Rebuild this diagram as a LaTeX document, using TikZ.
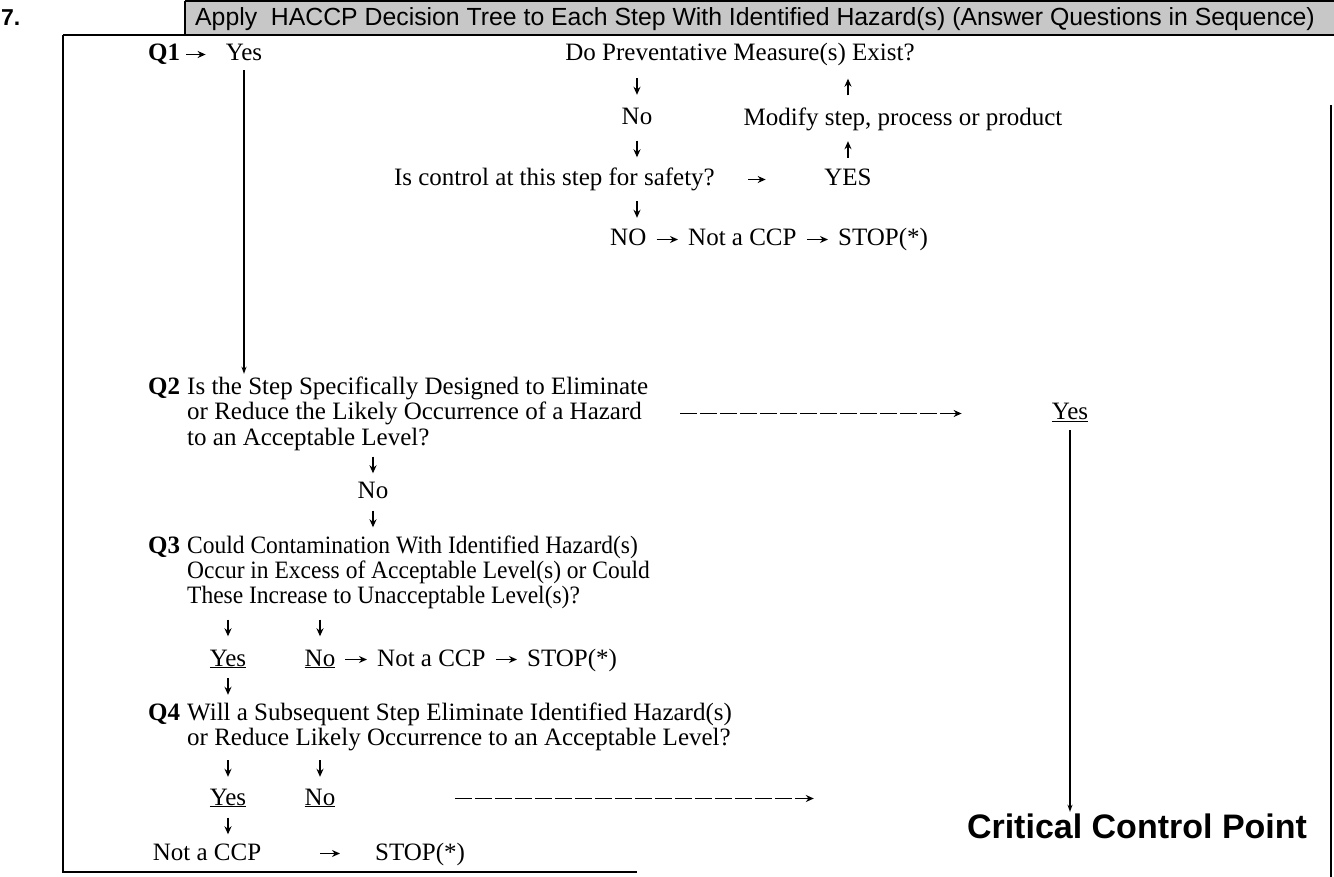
\documentclass[tikz,border=0pt]{standalone}
\usepackage{fontspec}
\setmainfont{Liberation Serif}
\newfontfamily\condserif[FakeStretch=0.94]{Liberation Serif}
\newfontfamily\hdrfont{Liberation Sans}
\usetikzlibrary{arrows.meta}
\tikzset{
  txt/.style={inner sep=0pt, text height=18pt, text depth=5pt, font=\fontsize{25}{25}\selectfont},
  ctxt/.style={txt, font=\condserif\fontsize{25}{25}\selectfont},
  arr/.style={line width=1.5pt, -{Stealth[length=8pt,width=7pt]}},
  gap/.style={shorten <=#1, shorten >=#1},
  dashedarr/.style={line width=1.6pt, dash pattern=on 17pt off 3pt, -{Stealth[length=8pt,width=7pt]}},
  longarr/.style={line width=1.3pt, -{Stealth[length=7pt,width=5pt]}},
  frame/.style={line width=1.4pt},
  hdr/.style={inner sep=0pt, font=\hdrfont\fontsize{24.8}{26}\selectfont}
}
\begin{document}
\begin{tikzpicture}[x=1pt,y=-1pt]
\useasboundingbox (0,0) rectangle (1334,877);
% header band
\fill[black!22] (185,1) rectangle (1334,35);
\draw[frame] (185,1) -- (1334,1);
\draw[frame] (185,1) -- (185,35);
\draw[frame] (63,35) -- (1334,35);
\node[hdr, anchor=base west, font=\hdrfont\bfseries\fontsize{23}{24}\selectfont] (num) at (1,26) {7.};
\node[hdr, anchor=base west] (title) at (195,26) {Apply\ \ HACCP Decision Tree to Each Step With Identified Hazard(s) (Answer Questions in Sequence)};
% frame
\draw[frame] (63,35) -- (63,872) -- (637,872);
\draw[frame] (1331,105) -- (1331,877);

% Q1 row
\node[txt, anchor=base west] (q1) at (148,61) {\textbf{Q1}};
\node[txt, anchor=base] (yes1) at (244,61) {Yes};
\draw[arr, shorten <=6pt, shorten >=20pt] (q1.east) -- (yes1.west);

% top right flow
\node[txt, anchor=base] (dpm) at (740,61) {Do Preventative Measure(s) Exist?};
\node[txt, anchor=base] (no1) at (637,125) {No};
\node[txt, anchor=base] (mod) at (903,126) {Modify step, process or product};
\node[txt, anchor=base east] (ctl) at (715,186) {Is control at this step for safety?};
\node[txt, anchor=base] (yesC) at (848,186) {YES};
\node[txt, anchor=base west] (NOb) at (610,246) {NO};
\node[txt, anchor=base west] (ncc1) at (688,246) {Not a CCP};
\node[txt, anchor=base west] (stop1) at (838,246) {STOP(*)};
\draw[arr, gap=12pt] (dpm.south -| no1) -- (no1.north);
\draw[arr, gap=10.5pt] (no1.south) -- (ctl.north -| no1);
\draw[arr, gap=10pt] (ctl.south -| no1) -- (NOb.north -| no1);
\draw[arr, shorten <=33pt, shorten >=58.5pt] (ctl.east) -- (yesC.west);
\draw[arr, gap=10pt] (yesC.north) -- (mod.south -| yesC);
\draw[arr, gap=12.5pt] (mod.north -| yesC) -- (dpm.south -| yesC);
\draw[arr, gap=10pt] (NOb.east) -- (ncc1.west);
\draw[arr, gap=10pt] (ncc1.east) -- (stop1.west);

% Q2
\node[txt, anchor=base west] (q2) at (148,395) {\textbf{Q2}};
\node[txt, anchor=base west] (q2a) at (187,395) {Is the Step Specifically Designed to Eliminate};
\node[txt, anchor=base west] (q2b) at (187,420) {or Reduce the Likely Occurrence of a Hazard};
\node[txt, anchor=base west] (q2c) at (187,445) {to an Acceptable Level?};
\draw[longarr, shorten <=4pt, shorten >=3pt] (yes1.south) -- (q2a.north -| yes1);
\node[txt, anchor=base] (yes2) at (1070,420) {\underline{Yes}};
\draw[dashedarr, shorten <=38pt, shorten >=90pt] (q2b.east) -- (yes2.west);
\node[inner sep=0pt, anchor=base, font=\hdrfont\bfseries\fontsize{34}{36}\selectfont, text height=25pt, text depth=7pt] (ccp) at (1137,838) {Critical Control Point};
\draw[longarr, shorten <=5pt, shorten >=1pt] (yes2.south) -- (ccp.north -| yes2);

\node[txt, anchor=base] (no3) at (373,498) {No};
\draw[arr, gap=6.5pt] (q2c.south -| no3) -- (no3.north);

% Q3
\node[txt, anchor=base west] (q3) at (148,553) {\textbf{Q3}};
\node[ctxt, anchor=base west] (q3a) at (187,553) {Could Contamination With Identified Hazard(s)};
\node[ctxt, anchor=base west] (q3b) at (187,578) {Occur in Excess of Acceptable Level(s) or Could};
\node[ctxt, anchor=base west] (q3c) at (187,603) {These Increase to Unacceptable Level(s)?};
\draw[arr, gap=7.5pt] (no3.south) -- (q3a.north -| no3);
\node[txt, anchor=base] (yes3) at (228,666) {\underline{Yes}};
\node[txt, anchor=base] (no4) at (320,666) {\underline{No}};
\node[txt, anchor=base west] (ncc2) at (377,666) {Not a CCP};
\node[txt, anchor=base west] (stop2) at (527,666) {STOP(*)};
\draw[arr, gap=11.5pt] (q3c.south -| yes3) -- (yes3.north);
\draw[arr, gap=11.5pt] (q3c.south -| no4) -- (no4.north);
\draw[arr, gap=10pt] (no4.east) -- (ncc2.west);
\draw[arr, gap=10pt] (ncc2.east) -- (stop2.west);

% Q4
\node[txt, anchor=base west] (q4) at (148,720) {\textbf{Q4}};
\node[txt, anchor=base west] (q4a) at (187,720) {Will a Subsequent Step Eliminate Identified Hazard(s)};
\node[txt, anchor=base west] (q4b) at (187,745) {or Reduce Likely Occurrence to an Acceptable Level?};
\draw[arr, gap=7pt] (yes3.south) -- (q4a.north -| yes3);
\node[txt, anchor=base] (yes4) at (228,805) {\underline{Yes}};
\node[txt, anchor=base] (no5) at (320,805) {\underline{No}};
\draw[arr, gap=10pt] (q4b.south -| yes4) -- (yes4.north);
\draw[arr, gap=10pt] (q4b.south -| no5) -- (no5.north);
\draw[dashedarr, shorten <=120pt, shorten >=153pt] (no5.east) -- (no5.east -| ccp.west);
\node[txt, anchor=base] (ncc3) at (207,860) {Not a CCP};
\node[txt, anchor=base west] (stop3) at (375,860) {STOP(*)};
\draw[arr, gap=7.5pt] (yes4.south) -- (ncc3.north -| yes4);
\draw[arr, shorten <=59pt, shorten >=35pt] (ncc3.east) -- (stop3.west);
\end{tikzpicture}
\end{document}
